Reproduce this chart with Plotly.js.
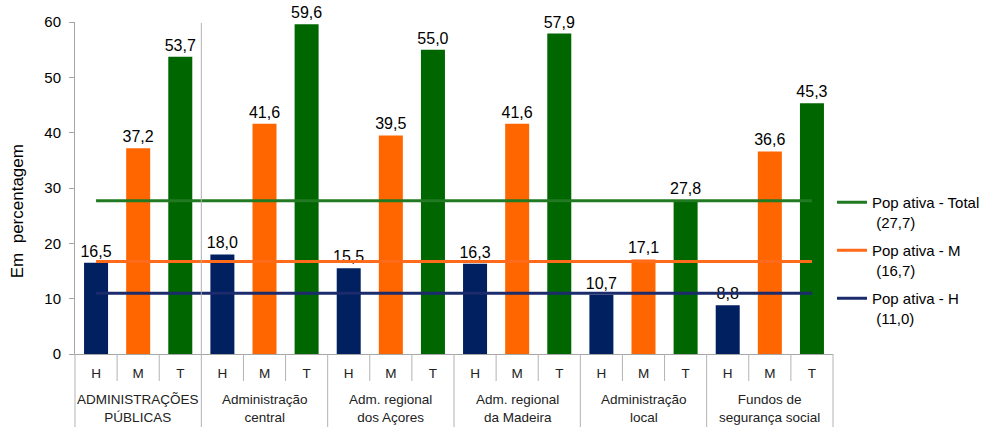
<!DOCTYPE html>
<html>
<head>
<meta charset="utf-8">
<script src="https://cdn.plot.ly/plotly-3.0.1.min.js"></script>
<style>html,body{margin:0;padding:0;background:#fff;}#chart{width:986px;height:427px;}</style>
</head>
<body>
<div id="chart"></div>
<script>
// ---- data ----
const groups = ["ADMINISTRAÇÕES<br>PÚBLICAS", "Administração<br>central", "Adm. regional<br>dos Açores", "Adm. regional<br>da Madeira", "Administração<br>local", "Fundos de<br>segurança social"];
const subs = ["H", "M", "T"];
const valuesH = [16.5, 18.0, 15.5, 16.3, 10.7, 8.8];
const valuesM = [37.2, 41.6, 39.5, 41.6, 17.1, 36.6];
const valuesT = [53.7, 59.6, 55.0, 57.9, 27.8, 45.3];
const popNames = ["Pop ativa - Total<br> (27,7)", "Pop ativa - M<br> (16,7)", "Pop ativa - H<br> (11,0)"];
const popValues = [27.7, 16.7, 11.0];
const yTitle = "Em  percentagem";

// ---- build ----
const nG = groups.length, nS = subs.length, nTot = nG * nS;
const FONT = "Liberation Sans, Arial, sans-serif";
const barColors = ["#002060", "#ff6600", "#006600"];
const lineColors = ["#217a21", "#ff6b1a", "#1b2b6b"];
const series = [valuesH, valuesM, valuesT];

const traces = [];
series.forEach((vals, s) => {
  traces.push({
    type: "bar",
    x: vals.map((v, g) => g * nS + s),
    y: vals,
    width: 0.57,
    marker: {color: barColors[s]},
    text: vals,
    texttemplate: "%{y:.1f}",
    textposition: "outside",
    constraintext: "none",
    cliponaxis: false,
    textfont: {size: 16, color: "#000", family: FONT},
    showlegend: false,
    hoverinfo: "skip"
  });
});
popValues.forEach((v, i) => {
  traces.push({
    type: "scatter",
    mode: "lines",
    x: [0, nTot - 1],
    y: [v, v],
    name: popNames[i],
    legendgroup: "g" + i,
    line: {color: lineColors[i], width: 3},
    hoverinfo: "skip"
  });
});

const tickvals = [], ticktext = [];
for (let g = 0; g < nG; g++) for (let s = 0; s < nS; s++) { tickvals.push(g * nS + s); ticktext.push(subs[s]); }

const plotH = 332;
const sepColor = "#b3b3b3";
const shapes = [];
for (let g = 0; g < nG; g++) {
  for (let s = 1; s < nS; s++) {
    const xp = (g * nS + s) / nTot;
    shapes.push({type: "line", xref: "paper", yref: "paper", x0: xp, x1: xp, y0: 0, y1: -27 / plotH, line: {color: sepColor, width: 1}});
  }
}
for (let k = 0; k <= nG; k++) {
  const xp = k / nG;
  shapes.push({type: "line", xref: "paper", yref: "paper", x0: xp, x1: xp, y0: (k === 1 ? 0.997 : 0), y1: -73 / plotH, line: {color: sepColor, width: 1}});
}

const annotations = groups.map((gname, g) => ({
  xref: "x", yref: "paper", x: g * nS + (nS - 1) / 2, y: -54 / plotH,
  text: gname, showarrow: false, xanchor: "center", yanchor: "middle",
  font: {size: 13.5, color: "#222", family: FONT}
}));
annotations.push({
  xref: "paper", yref: "paper", x: -58 / 758, y: 0.43, text: yTitle, textangle: -90,
  showarrow: false, xanchor: "center", yanchor: "middle",
  font: {size: 17, color: "#000", family: FONT}
});

const layout = {
  width: 986, height: 427,
  margin: {l: 75, r: 153, t: 22, b: 73, pad: 0, autoexpand: false},
  paper_bgcolor: "#fff", plot_bgcolor: "#fff",
  separators: ",.",
  barmode: "overlay",
  font: {family: FONT, color: "#000"},
  xaxis: {
    range: [-0.5, nTot - 0.5], tickmode: "array", tickvals: tickvals, ticktext: ticktext,
    showgrid: false, zeroline: false, showline: true, linecolor: "#a6a6a6", linewidth: 1,
    ticks: "outside", ticklen: 7, tickcolor: "rgba(0,0,0,0)",
    tickfont: {size: 13.5, color: "#222", family: FONT}, fixedrange: true
  },
  yaxis: {
    range: [0, 60], dtick: 10, tick0: 0, showgrid: false, zeroline: false,
    showline: true, linecolor: "#a6a6a6", linewidth: 1,
    ticks: "outside", ticklen: 5, tickcolor: "#a6a6a6", ticklabelstandoff: 5,
    tickfont: {size: 15, color: "#000", family: FONT}, fixedrange: true
  },
  legend: {
    x: 0.9987, xanchor: "left", y: 0.506, yanchor: "top", valign: "top",
    font: {size: 15, color: "#000", family: FONT}, bgcolor: "rgba(0,0,0,0)",
    traceorder: "grouped", tracegroupgap: 6
  },
  shapes: shapes,
  annotations: annotations,
  showlegend: true
};

Plotly.newPlot("chart", traces, layout, {staticPlot: true, displayModeBar: false});
</script>
</body>
</html>
